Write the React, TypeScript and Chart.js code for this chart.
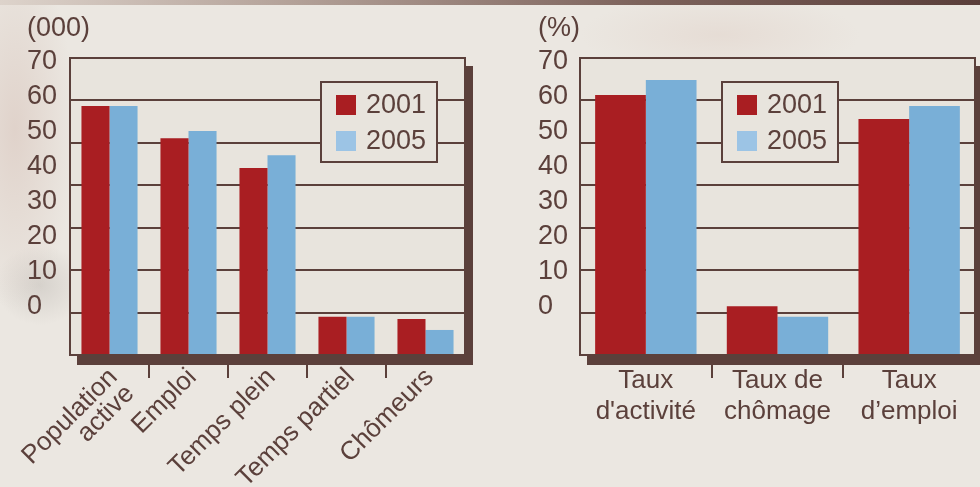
import React, { useEffect, useRef } from "react";
import { Chart, registerables } from "chart.js";

Chart.register(...registerables);

// ---------- data ----------
const SERIES_LABELS = ["2001", "2005"];

const LEFT_UNIT = "(000)";
const LEFT_CATEGORIES: (string | string[])[] = [
  ["Population", "active"],
  "Emploi",
  "Temps plein",
  "Temps partiel",
  "Chômeurs",
];
const LEFT_2001 = [58.7, 51.1, 44.1, 9.0, 8.5];
const LEFT_2005 = [58.7, 52.8, 47.1, 9.0, 5.9];

const RIGHT_UNIT = "(%)";
const RIGHT_CATEGORIES: (string | string[])[] = [
  ["Taux", "d'activité"],
  ["Taux de", "chômage"],
  ["Taux", "d’emploi"],
];
const RIGHT_2001 = [61.3, 11.5, 55.6];
const RIGHT_2005 = [64.8, 9.0, 58.7];

const Y_TICKS = [0, 10, 20, 30, 40, 50, 60, 70];

// ---------- style ----------
const BROWN = "#5b403b";
const RED = "#a91e22";
const BLUE = "#79afd7";
const LEGEND_BLUE = "#9cc4e5";
const PLOT_BG = "#e8e4dd";
const FONT = "'Liberation Sans', Arial, Helvetica, sans-serif";

Chart.defaults.font.family = FONT;

type PanelProps = {
  categories: (string | string[])[];
  s2001: number[];
  s2005: number[];
  unit: string;
  rotate: number;
  catPct: number;
  labelLeft: number;
  areaLeft: number;
  areaRight: number;
  legendLeft: number;
  tickPadding: number;
  labelOffset: number;
  lineHeight: number;
};

const W = 490;
const H = 487;
const AREA_TOP = 58;
const AREA_BOTTOM = 355;

function Panel(p: PanelProps) {
  const ref = useRef<HTMLCanvasElement | null>(null);

  useEffect(() => {
    if (!ref.current) return;
    const decor = {
      id: "decor",
      beforeDraw(chart: any) {
        const { ctx, chartArea: a } = chart;
        ctx.save();
        ctx.fillStyle = BROWN;
        ctx.fillRect(a.left + 7, a.top + 8, a.right - a.left + 1, a.bottom - a.top + 2);
        ctx.fillStyle = PLOT_BG;
        ctx.fillRect(a.left, a.top, a.right - a.left, a.bottom - a.top);
        ctx.restore();
      },
      afterDatasetsDraw(chart: any) {
        const { ctx, chartArea: a } = chart;
        ctx.save();
        ctx.strokeStyle = BROWN;
        ctx.lineWidth = 2;
        ctx.strokeRect(a.left, a.top, a.right - a.left, a.bottom - a.top);

        // legend
        const bx = p.legendLeft;
        const by = 82;
        ctx.fillStyle = PLOT_BG;
        ctx.fillRect(bx, by, 116, 80);
        ctx.strokeRect(bx, by, 116, 80);
        const cols = [RED, LEGEND_BLUE];
        ctx.font = `27px ${FONT}`;
        ctx.textBaseline = "middle";
        ctx.textAlign = "left";
        SERIES_LABELS.forEach((lab, i) => {
          ctx.fillStyle = cols[i];
          ctx.fillRect(bx + 15, by + 13 + i * 36, 20, 20);
          ctx.fillStyle = BROWN;
          ctx.fillText(lab, bx + 45, by + 24 + i * 36);
        });

        // unit
        ctx.fillStyle = BROWN;
        ctx.textAlign = "left";
        ctx.fillText(p.unit, p.labelLeft, 29);
        ctx.restore();
      },
    };

    const chart = new Chart(ref.current, {
      type: "bar",
      data: {
        labels: p.categories,
        datasets: [
          {
            label: SERIES_LABELS[0],
            data: p.s2001,
            backgroundColor: RED,
            borderWidth: 0,
            categoryPercentage: p.catPct,
            barPercentage: 1,
          },
          {
            label: SERIES_LABELS[1],
            data: p.s2005,
            backgroundColor: BLUE,
            borderWidth: 0,
            categoryPercentage: p.catPct,
            barPercentage: 1,
          },
        ],
      },
      options: {
        responsive: false,
        animation: false,
        layout: {
          padding: {
            top: AREA_TOP,
            right: W - p.areaRight,
            left: p.labelLeft,
            bottom: 0,
          },
        },
        plugins: {
          legend: { display: false },
          tooltip: { enabled: false },
        },
        scales: {
          x: {
            type: "category",
            offset: true,
            grid: {
              display: true,
              drawOnChartArea: false,
              drawTicks: true,
              tickLength: 23,
              lineWidth: 2,
              offset: true,
              color: (c: any) =>
                c.type === "tick" && c.index > 0 ? BROWN : "rgba(0,0,0,0)",
            },
            border: { display: false },
            ticks: {
              color: BROWN,
              font: { size: 26, lineHeight: p.lineHeight },
              autoSkip: false,
              maxRotation: p.rotate,
              minRotation: p.rotate,
              padding: p.tickPadding,
              labelOffset: p.labelOffset,
            },
            afterFit: (s: any) => {
              s.height = H - AREA_BOTTOM;
            },
          },
          y: {
            type: "linear",
            position: "left",
            min: 0,
            max: 70,
            weight: 0,
            ticks: { display: false, stepSize: 10 },
            grid: { color: BROWN, lineWidth: 2, drawTicks: false },
            border: { display: false },
            afterFit: (s: any) => {
              s.width = 0;
            },
          },
          yl: {
            type: "linear",
            position: "left",
            min: -13.71,
            max: 71.14,
            weight: 1,
            grid: { display: false, drawTicks: false },
            border: { display: false },
            ticks: {
              color: BROWN,
              font: { size: 27 },
              padding: 0,
              crossAlign: "far",
            },
            afterBuildTicks: (s: any) => {
              s.ticks = Y_TICKS.map((v) => ({ value: v }));
            },
            afterFit: (s: any) => {
              s.width = p.areaLeft - p.labelLeft;
            },
          },
        },
      } as any,
      plugins: [decor],
    });
    return () => chart.destroy();
  }, []);

  return <canvas ref={ref} width={W} height={H} style={{ display: "block" }} />;
}

export default function App() {
  return (
    <div
      style={{
        position: "fixed",
        left: 0,
        top: 0,
        width: 980,
        height: 487,
        overflow: "hidden",
        background: [
          "linear-gradient(to right, #ddd3cb 0%, #b3a198 30%, #7d635c 65%, #5a3e3a 100%) top left / 100% 5px no-repeat",
          "radial-gradient(ellipse 60px 180px at 15px 130px, rgba(210,185,175,0.45), rgba(210,185,175,0) 100%)",
          "radial-gradient(ellipse 45px 40px at 40px 285px, rgba(175,170,165,0.35), rgba(175,170,165,0) 100%)",
          "radial-gradient(ellipse 140px 40px at 720px 35px, rgba(220,200,190,0.35), rgba(220,200,190,0) 100%)",
          "#ebe7e1",
        ].join(", "),
      }}
    >
      <div style={{ position: "absolute", left: 0, top: 0 }}>
        <Panel
          categories={LEFT_CATEGORIES}
          s2001={LEFT_2001}
          s2005={LEFT_2005}
          unit={LEFT_UNIT}
          rotate={45}
          catPct={0.71}
          labelLeft={27}
          areaLeft={70}
          areaRight={465}
          legendLeft={321}
          tickPadding={-13}
          labelOffset={4}
          lineHeight={0.9}
        />
      </div>
      <div style={{ position: "absolute", left: 490, top: 0 }}>
        <Panel
          categories={RIGHT_CATEGORIES}
          s2001={RIGHT_2001}
          s2005={RIGHT_2005}
          unit={RIGHT_UNIT}
          rotate={0}
          catPct={0.77}
          labelLeft={48}
          areaLeft={90}
          areaRight={485}
          legendLeft={232}
          tickPadding={-13}
          labelOffset={0}
          lineHeight={1.2}
        />
      </div>
    </div>
  );
}
